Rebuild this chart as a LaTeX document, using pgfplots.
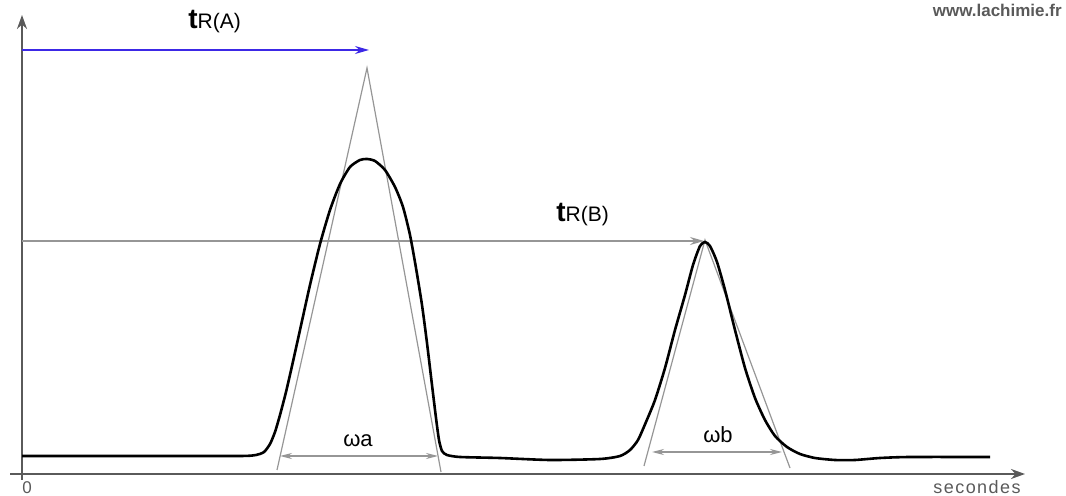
\documentclass[border=0pt]{standalone}
\usepackage{pgfplots}
\pgfplotsset{compat=1.18}
\usepackage{fontspec}
\setmainfont{Liberation Sans}
\usetikzlibrary{arrows.meta}
\definecolor{tanline}{RGB}{150,150,150}
\definecolor{axgray}{RGB}{90,90,90}
\definecolor{bluear}{RGB}{60,40,230}
\begin{document}
\begin{tikzpicture}
\begin{axis}[
  scale only axis, width=533pt, height=248pt,
  xmin=0, xmax=1066, ymin=0, ymax=496, y dir=reverse,
  hide axis, clip=false,
]
\addplot[draw=none] coordinates {(0,0) (1066,496)};
% axes
\addplot[axgray, line width=1.1pt, -{Stealth[length=7pt,width=5pt]}] coordinates {(22,480) (22,15)};
\addplot[axgray, line width=1.1pt, -{Stealth[length=7pt,width=5pt]}] coordinates {(10,474) (1025,474)};
% tangent lines
\addplot[tanline, line width=0.6pt] coordinates {(277,470) (367,68) (441,472)};
\addplot[tanline, line width=0.6pt] coordinates {(644,466) (705,240) (790,468)};
% retention arrows
\addplot[bluear, line width=0.7pt, -{Stealth[length=7pt,width=4pt]}] coordinates {(22,50) (369,50)};
\addplot[tanline, line width=0.7pt, -{Stealth[length=7pt,width=4pt]}] coordinates {(22,241) (704,241)};
% width arrows
\addplot[tanline, line width=0.7pt, {Stealth[length=6pt,width=3pt]}-{Stealth[length=6pt,width=3pt]}] coordinates {(280,456) (438,456)};
\addplot[tanline, line width=0.7pt, {Stealth[length=6pt,width=3pt]}-{Stealth[length=6pt,width=3pt]}] coordinates {(652,452) (782,452)};
% chromatogram
\addplot[black, line width=1.3pt, smooth, tension=0.4] coordinates {
(22,456) (150,456) (240,456) (256,455) (264,452) (270,444) (275,432) (280,415)
(286,392) (292,366) (300,330) (310,285) (320,244) (330,210) (340,184) (350,167)
(360,160) (367,159) (375,161) (385,170) (395,187) (403,207) (410,235) (416,268)
(422,305) (427,343) (432,385) (436,418) (439,440) (442,451) (447,455) (460,457)
(500,458) (550,460) (600,459) (620,456) (630,450) (638,440) (646,422) (655,400)
(665,368) (675,330) (685,295) (693,265) (700,246) (705,242) (710,246) (717,262)
(725,290) (735,330) (745,368) (755,398) (765,420) (775,436) (787,447) (800,454)
(815,458) (835,460) (855,460) (880,458) (910,457) (990,457)
};
% labels
\node[anchor=base west, inner sep=0pt] at (axis cs:188,29) {\fontsize{14}{14}\selectfont\bfseries t\fontsize{10.5}{10.5}\selectfont\mdseries R(A)};
\node[anchor=base west, inner sep=0pt] at (axis cs:556,222) {\fontsize{14}{14}\selectfont\bfseries t\fontsize{10.5}{10.5}\selectfont\mdseries R(B)};
\node[anchor=base, inner sep=0pt] at (axis cs:358,447) {\fontsize{11}{11}\selectfont ωa};
\node[anchor=base, inner sep=0pt] at (axis cs:718,443) {\fontsize{11}{11}\selectfont ωb};
\node[anchor=base, inner sep=0pt, text=axgray] at (axis cs:27,494) {\fontsize{8.5}{8.5}\selectfont 0};
\node[anchor=base, inner sep=0pt, text=axgray] at (axis cs:977,494) {\fontsize{9}{9}\selectfont\addfontfeature{LetterSpace=8}secondes};
\node[anchor=base east, inner sep=0pt, text=axgray] at (axis cs:1062,17) {\fontsize{8.5}{8.5}\selectfont\bfseries www.lachimie.fr};
\end{axis}
\end{tikzpicture}
\end{document}
